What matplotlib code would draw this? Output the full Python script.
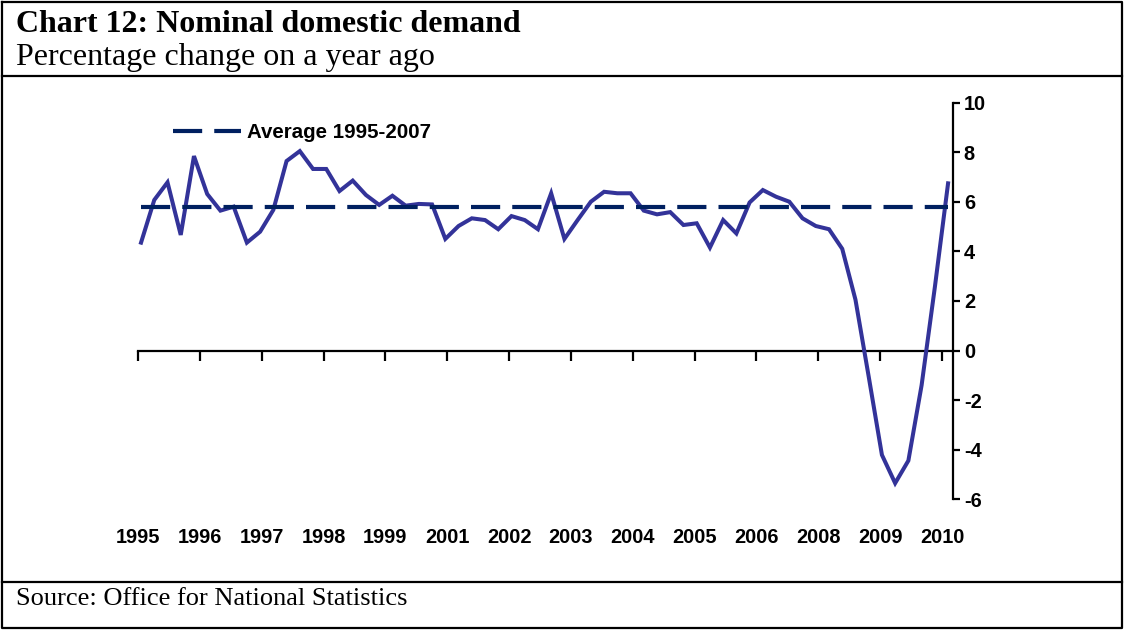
import numpy as np
import matplotlib
matplotlib.use("Agg")
import matplotlib.pyplot as plt
from matplotlib.lines import Line2D
import matplotlib.transforms as mtransforms

# ---------------- data ----------------
quarters = [f"{y} Q{q}" for y in range(1995, 2011) for q in range(1, 5)][:62]
demand_growth = [
    4.35, 6.07, 6.78, 4.66, 7.84, 6.31, 5.64, 5.80, 4.35, 4.79,
    5.67, 7.64, 8.04, 7.32, 7.32, 6.43, 6.85, 6.27, 5.87, 6.24,
    5.84, 5.91, 5.89, 4.50, 5.02, 5.33, 5.26, 4.89, 5.42, 5.26,
    4.89, 6.34, 4.50, 5.26, 6.00, 6.40, 6.34, 6.34, 5.64, 5.49,
    5.58, 5.06, 5.13, 4.15, 5.26, 4.72, 5.97, 6.47, 6.20, 6.00,
    5.33, 5.02, 4.89, 4.10, 2.05, -1.05, -4.21, -5.35, -4.44, -1.40,
    2.55, 6.74,
]
average_1995_2007 = 5.8
year_labels = ["1995", "1996", "1997", "1998", "1999", "2001", "2002",
               "2003", "2004", "2005", "2006", "2008", "2009", "2010"]
y_ticks = [-6, -4, -2, 0, 2, 4, 6, 8, 10]

# ---------------- figure ----------------
W, H = 1125, 630
fig = plt.figure(figsize=(W / 100, H / 100), dpi=100)

sans = ["Liberation Sans", "DejaVu Sans"]
serif = ["Liberation Serif", "DejaVu Serif"]

ax = fig.add_axes([138 / W, 1 - 499.3 / H, (952.7 - 138) / W, (499.3 - 102.5) / H])

x = np.arange(len(demand_growth))
ax.plot(x, demand_growth, color="#333399", lw=2.9, solid_joinstyle="miter",
        zorder=3)
ax.plot(x, [average_1995_2007] * len(x), color="#002060", lw=3.0,
        dashes=(7, 2.9), label="Average 1995-2007", zorder=4)

ax.set_xlim(-0.23, 61.35)
ax.set_ylim(-6, 10)

# spines
for s in ["top", "left"]:
    ax.spines[s].set_visible(False)
ax.spines["bottom"].set_position(("data", 0))
ax.spines["bottom"].set_linewidth(1.6)
ax.spines["right"].set_linewidth(1.6)

# x ticks (category-style, labels at the bottom)
tick_step = 4.675
xt = -0.23 + tick_step * np.arange(len(year_labels))
ax.set_xticks(xt)
ax.tick_params(axis="x", direction="out", length=7, width=1.6,
               labelbottom=False)
trans = mtransforms.blended_transform_factory(ax.transData, ax.transAxes)
for pos, lab in zip(xt, year_labels):
    ax.text(pos, -0.097, lab, transform=trans, ha="center", va="center",
            fontsize=14.4, fontweight="bold", family=sans)

# y axis on right
ax.yaxis.tick_right()
ax.set_yticks(y_ticks)
ax.set_yticklabels([str(v) for v in y_ticks], fontsize=14.4,
                   fontweight="bold", family=sans)
ax.tick_params(axis="y", direction="out", length=5, width=1.6, pad=3)

leg = ax.legend(loc="upper left", bbox_to_anchor=(173 / W, 1 - 123 / H),
                bbox_transform=fig.transFigure, frameon=False,
                handlelength=3.3, handletextpad=0.3, borderaxespad=0,
                borderpad=0, prop={"family": sans, "weight": "bold",
                                   "size": 14.8})

# ---------------- frame and texts ----------------
lw_frame = 1.6
fig.add_artist(Line2D([2 / W, 1122 / W, 1122 / W, 2 / W, 2 / W],
                      [1 - 2 / H, 1 - 2 / H, 1 - 628 / H, 1 - 628 / H, 1 - 2 / H],
                      transform=fig.transFigure, color="black", lw=lw_frame))
fig.add_artist(Line2D([2 / W, 1122 / W], [1 - 76 / H, 1 - 76 / H],
                      transform=fig.transFigure, color="black", lw=lw_frame))
fig.add_artist(Line2D([2 / W, 1122 / W], [1 - 582 / H, 1 - 582 / H],
                      transform=fig.transFigure, color="black", lw=lw_frame))

fig.text(16 / W, 1 - 32 / H, "Chart 12: Nominal domestic demand",
         ha="left", va="baseline", fontsize=23, fontweight="bold", family=serif)
fig.text(16 / W, 1 - 65 / H, "Percentage change on a year ago",
         ha="left", va="baseline", fontsize=23, family=serif)
fig.text(16 / W, 1 - 605 / H, "Source: Office for National Statistics",
         ha="left", va="baseline", fontsize=19, family=serif)

fig.savefig("out.png", dpi=100)
